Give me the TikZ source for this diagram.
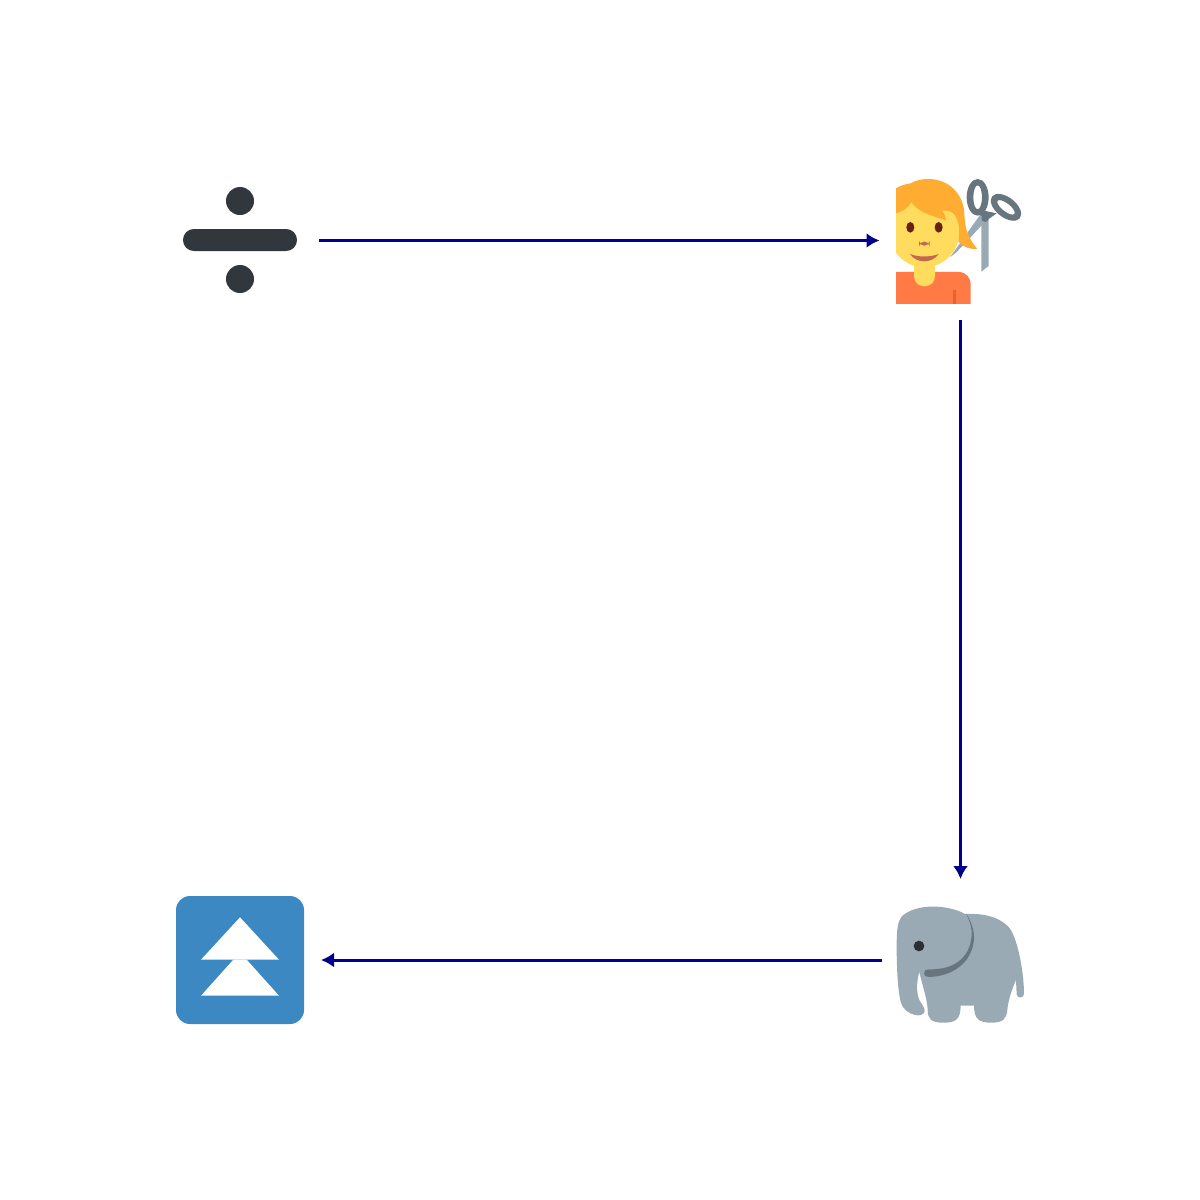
\documentclass[tikz,border=0pt]{standalone}
\usetikzlibrary{arrows.meta}
\definecolor{arrowblue}{HTML}{00008B}
\definecolor{divdark}{HTML}{31373D}
\definecolor{hair}{HTML}{FFAC33}
\definecolor{skin}{HTML}{FFDC5D}
\definecolor{shirt}{HTML}{FF7A45}
\definecolor{vent}{HTML}{E9622B}
\definecolor{steel}{HTML}{9AAAB4}
\definecolor{steeld}{HTML}{67757F}
\definecolor{tile}{HTML}{3B88C3}
\definecolor{eyeb}{HTML}{662113}
\definecolor{mouth}{HTML}{C1694F}
\definecolor{eled}{HTML}{292F33}
\tikzset{
  anchorbox/.style={minimum width=158pt,minimum height=158pt,inner sep=0pt,outer sep=0pt},
  flow/.style={draw=arrowblue,line width=3pt,-{Latex[length=13pt,width=15pt]},shorten >=2pt},
  zoomA/.style={shift={(880,170)},x=0.3333pt,y=-0.3333pt},
  zoomB/.style={shift={(880,860)},x=0.3333pt,y=-0.3333pt}
}
\begin{document}
\begin{tikzpicture}[x=1pt,y=-1pt]
\useasboundingbox[fill=white] (0,0) rectangle (1200,1200);
\node[anchorbox] (div) at (240,240.5) {};
\node[anchorbox] (cut) at (960.5,240.5) {};
\node[anchorbox] (ele) at (960.5,960) {};
\node[anchorbox] (up) at (240,960) {};
% divide sign
\fill[divdark] (240,201) circle[radius=14];
\fill[divdark] (240,279) circle[radius=14];
\fill[divdark,rounded corners=10.9pt] (183,229) rectangle (297,251);
% hairdresser
\begin{scope}[zoomA]
  \fill[steel] (210,262) -- (305,128) -- (325,145) -- (228,248) -- cycle;
  \fill[steel] (304,140) -- (326,130) -- (326,288) -- (304,305) -- cycle;
  \fill[steeld,even odd rule] (293,82) ellipse[x radius=33,y radius=55]
      (293,82) ellipse[x radius=13,y radius=36];
  \fill[steeld,even odd rule,rotate around={-38:(378,112)}]
      (378,112) ellipse[x radius=53,y radius=30]
      (378,112) ellipse[x radius=32,y radius=12];
  \fill[steeld] (292,130) -- (312,122) -- (350,130) -- (322,150) -- cycle;
  \fill[steeld] (315,145) circle[radius=11];
  \begin{scope}
    \clip (48,0) rectangle (500,402);
    \fill[shirt,rounded corners=0pt] (48,402) -- (48,306) -- (235,306)
       .. controls (258,306) and (272,322) .. (272,345) -- (272,402) -- cycle;
    \fill[vent] (219,360) rectangle (229,402);
    \fill[skin] (102,280) -- (165,280) -- (165,318)
       .. controls (165,338) and (150,349) .. (133,349)
       .. controls (116,349) and (102,338) .. (102,318) -- cycle;
    \fill[skin] (133,180) ellipse[x radius=107,y radius=112];
    \fill[hair] (48,55) .. controls (62,46) and (78,42) .. (92,40)
       .. controls (108,30) and (128,27) .. (145,27)
       .. controls (205,27) and (250,70) .. (253,130)
       .. controls (255,170) and (258,195) .. (292,237)
       .. controls (270,238) and (250,232) .. (235,215)
       .. controls (240,190) and (240,150) .. (220,130)
       .. controls (215,125) and (200,120) .. (186,122)
       .. controls (194,132) and (198,142) .. (198,152)
       .. controls (175,140) and (120,135) .. (94,96)
       .. controls (85,115) and (65,125) .. (48,130) -- cycle;
    \fill[eyeb] (91,172) ellipse[x radius=12,y radius=16];
    \fill[eyeb] (176,172) ellipse[x radius=12,y radius=16];
    \fill[mouth,rounded corners=5pt] (117,215) rectangle (149,227);
    \fill[mouth] (90,252) .. controls (115,262) and (150,262) .. (176,252)
       .. controls (165,268) and (148,274) .. (133,274)
       .. controls (118,274) and (100,268) .. (90,252) -- cycle;
  \end{scope}
\end{scope}
% elephant
\begin{scope}[zoomB]
  \fill[steel] (50,260) .. controls (50,210) and (52,180) .. (70,165)
     .. controls (95,145) and (135,138) .. (170,140)
     .. controls (200,141) and (235,150) .. (255,162)
     .. controls (300,160) and (350,165) .. (385,200)
     .. controls (410,225) and (432,330) .. (432,402)
     .. controls (432,416) and (410,416) .. (410,402)
     -- (408,360)
     .. controls (395,390) and (385,420) .. (382,450)
     .. controls (380,475) and (370,488) .. (335,488)
     .. controls (300,488) and (282,480) .. (282,437)
     -- (242,437)
     .. controls (242,480) and (225,488) .. (190,488)
     .. controls (155,488) and (143,478) .. (143,450)
     .. controls (143,420) and (125,370) .. (118,335)
     .. controls (110,365) and (108,395) .. (118,420)
     .. controls (125,432) and (135,445) .. (134,453)
     .. controls (132,465) and (118,468) .. (105,465)
     .. controls (85,460) and (68,448) .. (62,425)
     .. controls (52,385) and (50,310) .. (50,260) -- cycle;
  \fill[steeld] (258,160) .. controls (275,185) and (284,215) .. (282,240)
     .. controls (275,310) and (215,350) .. (145,351)
     .. controls (128,351) and (128,328) .. (145,328)
     .. controls (215,330) and (270,300) .. (275,225)
     .. controls (276,200) and (268,180) .. (258,160) -- cycle;
  \fill[eled] (117,258) circle[radius=16];
\end{scope}
% up tile
\fill[tile,rounded corners=14pt] (176,896) rectangle (304,1024);
\fill[white] (240,917.3) -- (279,959.7) -- (201,959.7) -- cycle;
\fill[white] (233.3,959.7) -- (246.7,959.7) -- (279,995.7) -- (201,995.7) -- cycle;
% connectors
\draw[flow] (div) -- (cut);
\draw[flow] (cut) -- (ele);
\draw[flow] (ele) -- (up);
\end{tikzpicture}
\end{document}
